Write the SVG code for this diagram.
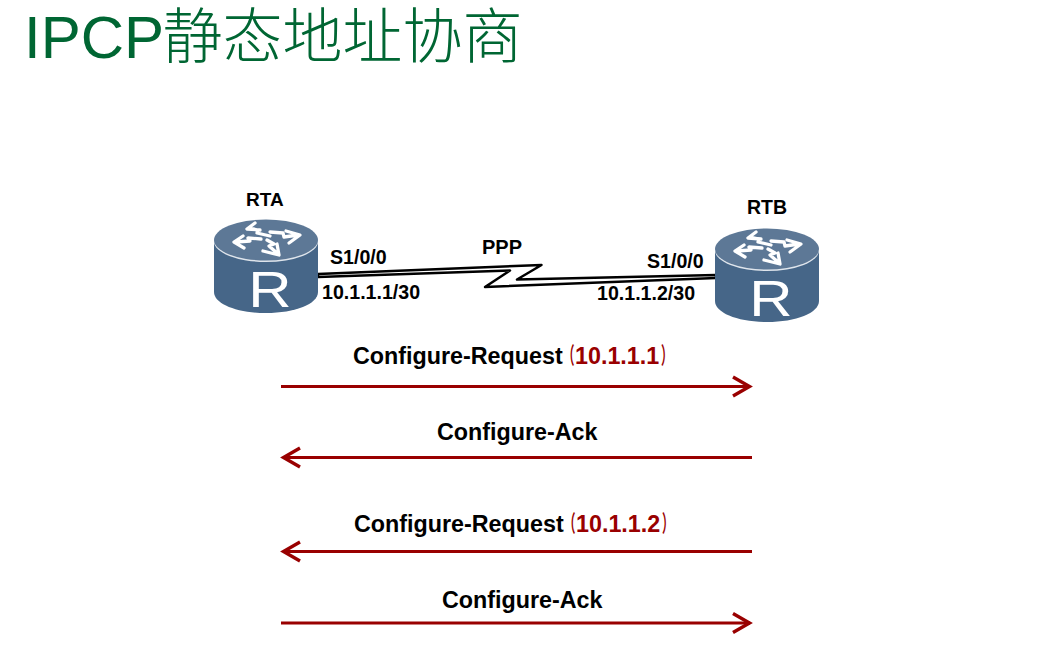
<svg xmlns="http://www.w3.org/2000/svg" width="1052" height="660" viewBox="0 0 1052 660">
<style>
.lb{font-family:"Liberation Sans",Arial,"Noto Sans CJK SC",sans-serif;font-weight:700;fill:#000}
.m{font-size:23.3px}.s{font-size:19.6px}
.r{fill:#990000}
.p{font-family:"Liberation Sans","Noto Sans CJK SC",sans-serif;font-size:23px;font-weight:700;fill:#990000}
.ar{fill:none;stroke:#990000;stroke-width:3}
.hd{fill:none;stroke:#990000;stroke-width:3.4}
</style>
<defs>
<g id="router">
<path d="M0,21 V73 C0,85 23,94 52,94 C81,94 104,85 104,73 V21 Z" fill="#466688"/>
<ellipse cx="52" cy="22.500" rx="52" ry="20.500" fill="#dfe5ec"/>
<ellipse cx="52" cy="21" rx="52" ry="20.500" fill="#5d7896"/>
<g fill="none" stroke="#fff" stroke-width="3.300" stroke-linejoin="round" stroke-linecap="round">
<path d="M41,4 L33,10 L46,11 M35,9 L44,11 L43,14 L56,17"/>
<path d="M29,17 L20,23 L30,29 M22,23 L36,22 L34,19 L47,20"/>
<path d="M72,12 L86,16 L75,24 M84,16 L70,18 L69,14 L56,13"/>
<path d="M49,32 L65,36 L63,25 M63,34 L55,27 L60,25 L53,21"/>
</g>
<text x="56" y="88" text-anchor="middle" font-family="'Liberation Sans',Arial,sans-serif" font-size="50" fill="#fff" transform="translate(-11.200 0) scale(1.200 1)">R</text>
</g>
</defs>
<g id="title"><text x="24" y="58" font-family="'Liberation Sans','Noto Sans CJK SC',sans-serif" font-weight="300" font-size="60" fill="#006633">IPCP<tspan dx="-1.500">静态地址协商</tspan></text></g>
<g id="connectors">
<path d="M318,274 L541.500,265 L517,279.500 L716,275 V278 L485,287 L510,270.500 L318,277 Z" fill="#fff" stroke="#000" stroke-width="2.500" stroke-linejoin="round"/>
<path class="ar" d="M281,386.500 H750"/><path class="hd" d="M733,377 L749.500,386.500 L733,396"/>
<path class="ar" d="M283,457.500 H752"/><path class="hd" d="M300,448 L283.500,457.500 L300,467"/>
<path class="ar" d="M283,551.500 H752"/><path class="hd" d="M300,542 L283.500,551.500 L300,561"/>
<path class="ar" d="M281,623 H750"/><path class="hd" d="M733,613.500 L749.500,623 L733,632.500"/>
</g>
<g id="RTA"><use href="#router" x="214" y="219"/><text class="lb" x="246" y="205.500" font-size="19">RTA</text></g>
<g id="RTB"><use href="#router" x="715" y="228"/><text class="lb" x="747" y="213.500" font-size="19.500">RTB</text></g>
<g id="labels">
<text class="lb s" x="330" y="263.500">S1/0/0</text>
<text class="lb s" x="322" y="299">10.1.1.1/30</text>
<text class="lb" x="482" y="254" font-size="20">PPP</text>
<text class="lb s" x="647" y="268">S1/0/0</text>
<text class="lb s" x="597" y="299.500">10.1.1.2/30</text>
<text class="lb m" x="353" y="364">Configure-Request</text>
<text class="p" transform="translate(563 364) scale(.5 1)">（</text>
<text class="lb m r" x="575" y="364">10.1.1.1</text>
<text class="p" transform="translate(661 364) scale(.5 1)">）</text>
<text class="lb m" x="437" y="440">Configure-Ack</text>
<text class="lb m" x="354" y="532">Configure-Request</text>
<text class="p" transform="translate(564 532) scale(.5 1)">（</text>
<text class="lb m r" x="576" y="532">10.1.1.2</text>
<text class="p" transform="translate(662 532) scale(.5 1)">）</text>
<text class="lb m" x="442" y="608">Configure-Ack</text>
</g>
</svg>
